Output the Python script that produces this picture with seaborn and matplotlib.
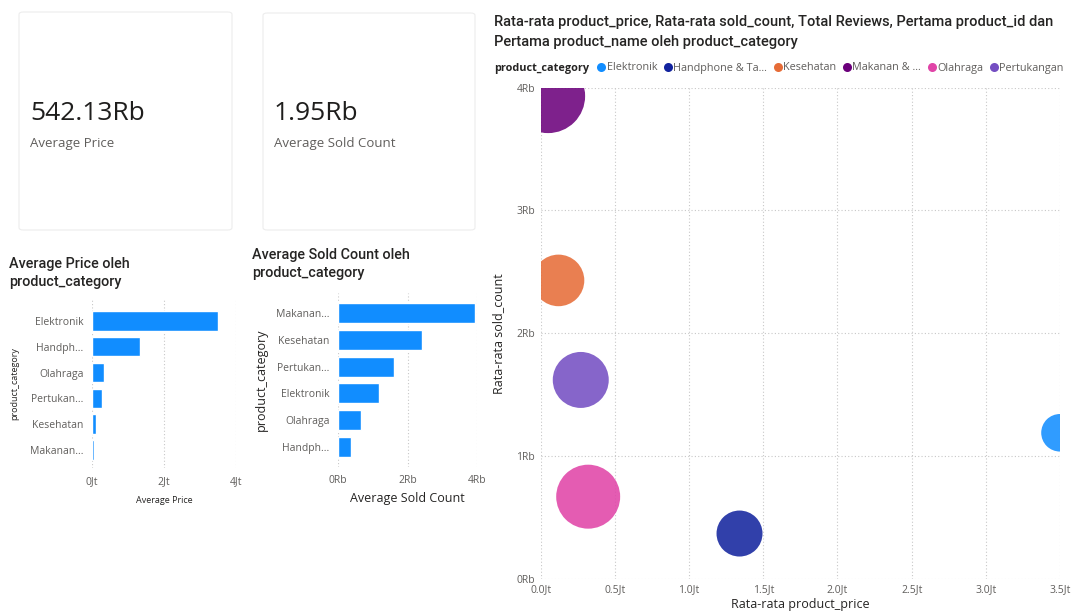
import matplotlib
matplotlib.use("Agg")
import matplotlib.pyplot as plt
import seaborn as sns
import pandas as pd
from matplotlib.patches import FancyBboxPatch
from matplotlib.lines import Line2D
from matplotlib.ticker import FuncFormatter, MultipleLocator

# ---------------- data ----------------
categories = ["Elektronik", "Handphone & Tablet", "Kesehatan",
              "Makanan & Minuman", "Olahraga", "Pertukangan"]
legend_labels = ["Elektronik", "Handphone & Ta...", "Kesehatan",
                 "Makanan & ...", "Olahraga", "Pertukangan"]
bar_labels = ["Elektronik", "Handph...", "Kesehatan",
              "Makanan...", "Olahraga", "Pertukan..."]
avg_price_jt = [3.50, 1.34, 0.12, 0.05, 0.32, 0.27]     # juta
avg_sold_rb = [1.19, 0.37, 2.43, 3.93, 0.67, 1.62]      # ribu
total_reviews = [353, 529, 666, 1370, 1024, 784]        # relative bubble size
colors = ["#118DFF", "#12239E", "#E66C37", "#6B007B", "#E044A7", "#744EC2"]

card_values = ["542.13Rb", "1.95Rb"]
card_labels = ["Average Price", "Average Sold Count"]

df = pd.DataFrame({
    "cat": categories,
    "price": avg_price_jt,
    "sold": avg_sold_rb,
    "reviews": total_reviews,
})
short = dict(zip(categories, bar_labels))
palette = dict(zip(categories, colors))

# ---------------- style ----------------
sns.set_theme(style="white")
plt.rcParams["font.family"] = ["Open Sans", "DejaVu Sans"]

W, H = 1073, 612
fig = plt.figure(figsize=(W / 100, H / 100), dpi=100)
fig.patch.set_facecolor("white")

TXT = "#252423"
TICK = "#605e5c"
GRID = "#c8c8c8"
TITLE_FONT = ["Roboto", "DejaVu Sans"]


def px_axes(x0, y0, x1, y1):
    return fig.add_axes([x0 / W, 1 - y1 / H, (x1 - x0) / W, (y1 - y0) / H])


def fx(x):
    return x / W


def fy(y):
    return 1 - y / H


# ---------------- cards ----------------
cards = [(19, 12, 232, 230), (263, 13, 475, 230)]
for (x0, y0, x1, y1), val, lab in zip(cards, card_values, card_labels):
    box = FancyBboxPatch((fx(x0), fy(y1)), fx(x1 - x0), (y1 - y0) / H,
                         boxstyle="round,pad=0,rounding_size=0.004",
                         transform=fig.transFigure, facecolor="white",
                         edgecolor="#ededed", linewidth=0.8)
    fig.patches.append(box)
    fig.text(fx(x0 + 11), fy(114), val, fontsize=19, color="#1f1e1d",
             va="center", ha="left", fontweight="medium")
    fig.text(fx(x0 + 11), fy(143), lab, fontsize=9.5, color=TICK,
             va="center", ha="left")

# ---------------- left bar chart ----------------
ax1 = px_axes(92, 300, 236, 468)
order_price = df.sort_values("price", ascending=False)["cat"].tolist()
sns.barplot(data=df, y="cat", x="price", order=order_price, color="#118DFF",
            saturation=1, width=0.75, ax=ax1)
ax1.set_xlim(0, 4)
ax1.set_ylim(5.70, -0.81)
ax1.xaxis.set_major_locator(MultipleLocator(2))
ax1.xaxis.set_major_formatter(FuncFormatter(lambda v, p: f"{v:.0f}Jt"))
ax1.set_yticks(range(len(order_price)))
ax1.set_yticklabels([short[c] for c in order_price])
ax1.grid(axis="x", linestyle=(0, (1, 2)), color=GRID, linewidth=0.8)
ax1.set_axisbelow(True)
for s in ax1.spines.values():
    s.set_visible(False)
ax1.tick_params(length=0, labelsize=7.5, labelcolor=TICK, pad=6)
ax1.set_xlabel("Average Price", fontsize=6.5, color=TXT, labelpad=6)
ax1.set_ylabel("product_category", fontsize=6.5, color=TXT, labelpad=8)
fig.text(fx(9), fy(273), "Average Price oleh\nproduct_category", fontsize=10.4,
         color=TXT, va="center", ha="left", fontweight="medium",
         linespacing=1.35, family=TITLE_FONT)

# ---------------- middle bar chart ----------------
ax2 = px_axes(338, 293, 477, 467)
order_sold = df.sort_values("sold", ascending=False)["cat"].tolist()
sns.barplot(data=df, y="cat", x="sold", order=order_sold, color="#118DFF",
            saturation=1, width=0.75, ax=ax2)
ax2.set_xlim(0, 4)
ax2.set_ylim(5.75, -0.75)
ax2.xaxis.set_major_locator(MultipleLocator(2))
ax2.xaxis.set_major_formatter(FuncFormatter(lambda v, p: f"{v:.0f}Rb"))
ax2.set_yticks(range(len(order_sold)))
ax2.set_yticklabels([short[c] for c in order_sold])
ax2.grid(axis="x", linestyle=(0, (1, 2)), color=GRID, linewidth=0.8)
ax2.set_axisbelow(True)
for s in ax2.spines.values():
    s.set_visible(False)
ax2.tick_params(length=0, labelsize=7.5, labelcolor=TICK, pad=6)
ax2.set_xlabel("Average Sold Count", fontsize=9, color=TXT, labelpad=4)
ax2.set_ylabel("product_category", fontsize=9, color=TXT, labelpad=6)
fig.text(fx(252), fy(264), "Average Sold Count oleh\nproduct_category",
         fontsize=10.4, color=TXT, va="center", ha="left",
         fontweight="medium", linespacing=1.35, family=TITLE_FONT)

# ---------------- bubble chart ----------------
ax3 = px_axes(540.7, 87.5, 1060, 579)
rmax_pt = 2 * 37 * 72 / 100
smax = rmax_pt ** 2
sns.scatterplot(data=df, x="price", y="sold", hue="cat", palette=palette,
                size="reviews", sizes=(0, smax),
                size_norm=(0, max(total_reviews)), alpha=0.87, linewidth=0,
                legend=False, ax=ax3, zorder=3)
ax3.set_xlim(0, 3.5)
ax3.set_ylim(0, 4)
ax3.xaxis.set_major_locator(MultipleLocator(0.5))
ax3.yaxis.set_major_locator(MultipleLocator(1))
ax3.xaxis.set_major_formatter(FuncFormatter(lambda v, p: f"{v:.1f}Jt"))
ax3.yaxis.set_major_formatter(FuncFormatter(lambda v, p: f"{v:.0f}Rb"))
ax3.grid(True, linestyle=(0, (1, 2)), color=GRID, linewidth=0.8)
ax3.set_axisbelow(True)
for s in ax3.spines.values():
    s.set_visible(False)
ax3.tick_params(length=0, labelsize=7.5, labelcolor=TICK, pad=4)
ax3.set_xlabel("Rata-rata product_price", fontsize=9, color=TXT, labelpad=2)
ax3.set_ylabel("Rata-rata sold_count", fontsize=9, color=TXT, labelpad=8)
fig.text(fx(494), fy(32),
         "Rata-rata product_price, Rata-rata sold_count, Total Reviews, Pertama product_id dan\n"
         "Pertama product_name oleh product_category",
         fontsize=10.5, color=TXT, va="center", ha="left",
         fontweight="medium", linespacing=1.5, family=TITLE_FONT)

# legend
fig.text(fx(494), fy(68), "product_category", fontsize=7.8, fontweight="bold",
         color=TXT, va="center", ha="left")
handles = [Line2D([], [], marker="o", linestyle="", markersize=6.5,
                  markerfacecolor=c, markeredgewidth=0) for c in colors]
fig.legend(handles, legend_labels, loc="center left",
           bbox_to_anchor=(fx(598), fy(68)), ncol=6, frameon=False,
           fontsize=7.8, labelcolor=TICK, handlelength=0.6,
           handletextpad=0.2, columnspacing=0.68, borderpad=0,
           borderaxespad=0)

fig.savefig("out.png", dpi=100, facecolor="white")
